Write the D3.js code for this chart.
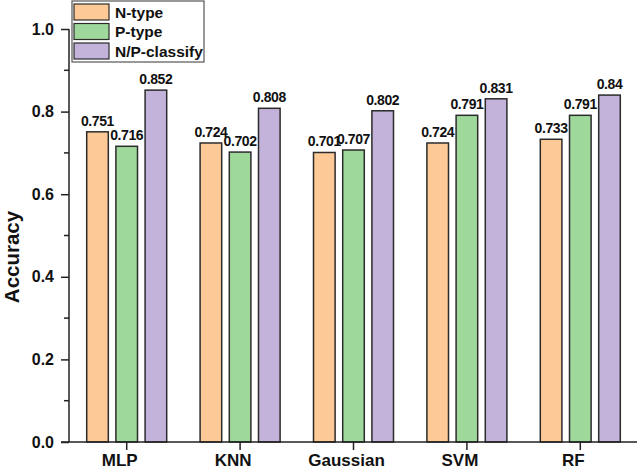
<!DOCTYPE html>
<html>
<head>
<meta charset="utf-8">
<script src="https://cdn.jsdelivr.net/npm/d3@7"></script>
<style>
  body { margin: 0; background: #fff; }
  text { font-family: "Liberation Sans", Arial, sans-serif; font-weight: bold; }
</style>
</head>
<body>
<div id="main"></div>
<script>
const models = ["MLP", "KNN", "Gaussian", "SVM", "RF"]
const seriesNames = ["N-type", "P-type", "N/P-classify"]
const nType = [0.751, 0.724, 0.701, 0.724, 0.733]
const pType = [0.716, 0.702, 0.707, 0.791, 0.791]
const npClassify = [0.852, 0.808, 0.802, 0.831, 0.84]
const valueLabels = [
    ["0.751", "0.724", "0.701", "0.724", "0.733"],
    ["0.716", "0.702", "0.707", "0.791", "0.791"],
    ["0.852", "0.808", "0.802", "0.831", "0.84"]
]
const yTicks = [0, 0.2, 0.4, 0.6, 0.8, 1.0]
const yMinor = [0.1, 0.3, 0.5, 0.7, 0.9]
const colors = ["#fdc996", "#9ed99b", "#c3b2d9"]

let width = 640,
    height = 469,
    mLeft = 69,
    mRight = 637,
    mTop = 29,
    mBottom = 442

const svg = d3.select("div#main")
    .append("svg")
    .attr("width", width)
    .attr("height", height)

const x = d3.scaleBand().domain(models).range([mLeft + 1, mRight])
const inner = d3.scaleBand().domain(seriesNames).range([-40, 40]).paddingInner(0.26)
const y = d3.scaleLinear().domain([0, 1]).range([mBottom, mTop])

const allSeries = [nType, pType, npClassify]
const rows = []
allSeries.forEach((vals, s) => {
    vals.forEach((v, i) => rows.push({ model: models[i], s: s, v: v, label: valueLabels[s][i] }))
})

// bars
svg.selectAll(".bar")
    .data(rows)
    .join("rect")
    .attr("class", "bar")
    .attr("x", d => x(d.model) + x.bandwidth() / 2 + inner(seriesNames[d.s]))
    .attr("width", inner.bandwidth())
    .attr("y", d => y(d.v))
    .attr("height", d => y(0) - y(d.v))
    .attr("fill", d => colors[d.s])
    .attr("stroke", "#2b2b2b")
    .attr("stroke-width", 1.5)

svg.selectAll(".val")
    .data(rows)
    .join("text")
    .attr("class", "val")
    .attr("x", d => x(d.model) + x.bandwidth() / 2 + inner(seriesNames[d.s]) + inner.bandwidth() / 2)
    .attr("y", d => y(d.v) - 6)
    .attr("text-anchor", "middle")
    .attr("font-size", 14)
    .attr("letter-spacing", -0.4)
    .attr("fill", "#111")
    .text(d => d.label)

// y axis
const yAxis = svg.append("g")
    .attr("transform", `translate(${mLeft},0)`)
    .call(d3.axisLeft(y).tickValues(yTicks).tickFormat(d3.format(".1f")).tickSize(8).tickPadding(7))
yAxis.selectAll("text").attr("font-size", 16).attr("fill", "#111")
yAxis.selectAll("line, path").attr("stroke", "#222").attr("stroke-width", 1.5)
yAxis.select(".domain").attr("d", `M0,${mTop}V${mBottom}`)

svg.append("g")
    .attr("transform", `translate(${mLeft},0)`)
    .selectAll("line")
    .data(yMinor)
    .join("line")
    .attr("x1", -5).attr("x2", 0)
    .attr("y1", d => y(d)).attr("y2", d => y(d))
    .attr("stroke", "#222").attr("stroke-width", 1.5)

// x axis
const xAxis = svg.append("g")
    .attr("transform", `translate(0,${mBottom})`)
    .call(d3.axisBottom(x).tickSize(8).tickPadding(4))
xAxis.selectAll("text").attr("font-size", 17).attr("fill", "#111").attr("dx", -7)
xAxis.selectAll("line, path").attr("stroke", "#222").attr("stroke-width", 1.5)
xAxis.select(".domain").attr("d", `M${mLeft - 8},0H${mRight}`)

svg.append("text")
    .attr("transform", `translate(19,257) rotate(-90)`)
    .attr("text-anchor", "middle")
    .attr("font-size", 20.5)
    .attr("fill", "#111")
    .text("Accuracy")

// legend
const legend = svg.append("g").attr("transform", "translate(72,1)")
legend.append("rect")
    .attr("width", 132).attr("height", 61)
    .attr("fill", "#fff").attr("stroke", "#555").attr("stroke-width", 1.2)
const item = legend.selectAll(".item")
    .data(seriesNames)
    .join("g")
    .attr("transform", (d, i) => `translate(2,${3 + i * 19.5})`)
item.append("rect")
    .attr("width", 35).attr("height", 16)
    .attr("fill", (d, i) => colors[i])
    .attr("stroke", "#2b2b2b").attr("stroke-width", 1.2)
item.append("text")
    .attr("x", 41).attr("y", 13.5)
    .attr("font-size", 15.5)
    .attr("fill", "#111")
    .text(d => d)
</script>
</body>
</html>
